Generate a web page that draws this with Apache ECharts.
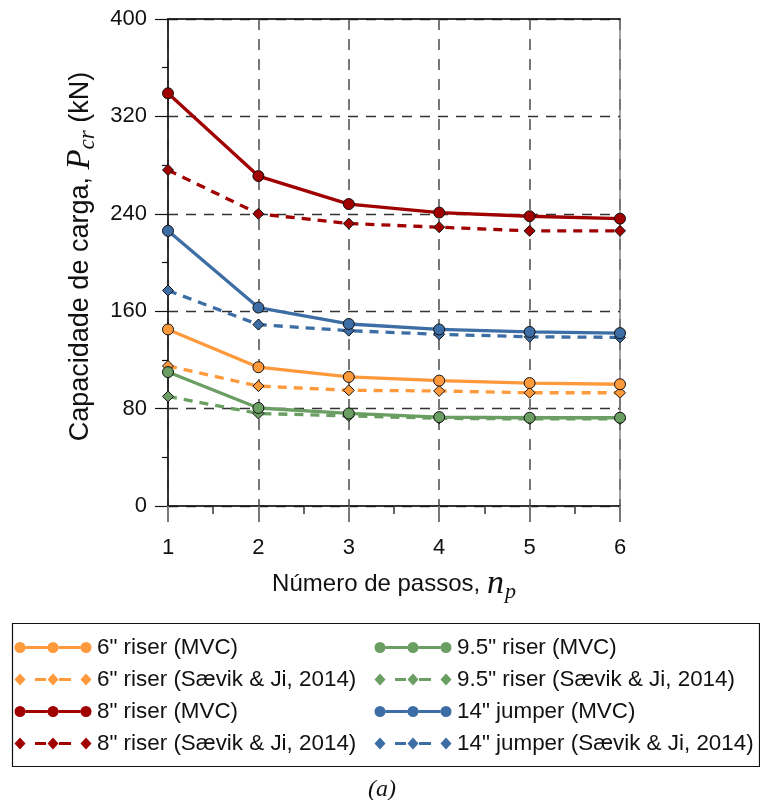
<!DOCTYPE html>
<html>
<head>
<meta charset="utf-8">
<script src="https://cdn.jsdelivr.net/npm/echarts@6/dist/echarts.min.js"></script>
<style>
html,body{margin:0;padding:0;background:#fff;}
#chart{width:760px;height:800px;}
</style>
</head>
<body>
<div id="chart"></div>
<script>
// ---- data ----
const passos = [1, 2, 3, 4, 5, 6];
const yTicks = [0, 80, 160, 240, 320, 400];
const riser6MVC   = [145, 114, 106, 103, 101, 100];
const riser6Sae   = [115, 98.5, 95, 94.5, 93, 93];
const riser8MVC   = [339, 271, 248, 241, 238, 236];
const riser8Sae   = [276, 240, 232, 229, 226, 226];
const riser95MVC  = [110, 80.5, 76, 73, 72.5, 72.5];
const riser95Sae  = [90, 76, 74, 72, 71.5, 71.5];
const jumper14MVC = [226, 163, 149.5, 145, 143, 142];
const jumper14Sae = [177, 149, 144, 141, 139, 138.5];

const names = {
  r6m: '6" riser (MVC)', r6s: '6" riser (Sævik & Ji, 2014)',
  r8m: '8" riser (MVC)', r8s: '8" riser (Sævik & Ji, 2014)',
  r95m: '9.5" riser (MVC)', r95s: '9.5" riser (Sævik & Ji, 2014)',
  j14m: '14" jumper (MVC)', j14s: '14" jumper (Sævik & Ji, 2014)'
};
const colors = { orange: '#FF9A3C', red: '#A00000', green: '#6A9E62', blue: '#3C6EA5' };

const pair = arr => passos.map((x, i) => [x, arr[i]]);

function lineSeries(name, arr, color, dashed) {
  return {
    name: name,
    type: 'line',
    data: pair(arr),
    symbol: dashed ? 'diamond' : 'circle',
    symbolSize: 11,
    lineStyle: { color: color, width: 3.3, type: dashed ? [9, 7] : 'solid' },
    itemStyle: { color: color, borderColor: '#111', borderWidth: 1 },
    z: dashed ? 3 : 4,
    animation: false
  };
}

// legend icon paths (78 x 12 units)
function circ(cx) { return 'M' + (cx - 5.5) + ',6 a5.5,5.5 0 1,0 11,0 a5.5,5.5 0 1,0 -11,0 Z '; }
function diam(cx) { return 'M' + cx + ',0 L' + (cx + 5.5) + ',6 L' + cx + ',12 L' + (cx - 5.5) + ',6 Z '; }
function seg(a, b) { return 'M' + a + ',4.6 L' + b + ',4.6 L' + b + ',7.4 L' + a + ',7.4 Z '; }
const iconMVC = 'path://M0,0 L0.01,0 L0.01,0.01 Z M78,12 L77.99,12 L77.99,11.99 Z ' + circ(6) + seg(11.5, 33.5) + circ(39) + seg(44.5, 66.5) + circ(72);
const iconSae = 'path://M0,0 L0.01,0 L0.01,0.01 Z M78,12 L77.99,12 L77.99,11.99 Z ' + diam(6) + seg(21, 32) + diam(39) + seg(45, 57) + diam(72);

const chart = echarts.init(document.getElementById('chart'), null, { renderer: 'canvas' });

const legendCommon = {
  orient: 'vertical',
  padding: 0,
  itemWidth: 78,
  itemHeight: 12,
  itemGap: 9,
  textStyle: { fontSize: 22.4, fontFamily: 'Liberation Sans', color: '#111', lineHeight: 23 },
  itemStyle: { borderWidth: 0 },
  selectedMode: false
};

chart.setOption({
  backgroundColor: '#fff',
  animation: false,
  grid: { left: 168, right: 140, top: 19, bottom: 294, show: true, borderColor: '#888', borderWidth: 1.5, backgroundColor: 'transparent' },
  xAxis: [{
    type: 'value', min: 1, max: 6, interval: 1,
    name: '{t|Número de passos, }{n|n}{p|p}',
    nameLocation: 'middle', nameGap: 59,
    nameTextStyle: {
      rich: {
        t: { fontSize: 24, fontFamily: 'Liberation Sans', color: '#111' },
        n: { fontSize: 34, fontFamily: 'Liberation Serif', fontStyle: 'italic', color: '#111' },
        p: { fontSize: 22, fontFamily: 'Liberation Serif', fontStyle: 'italic', color: '#111', padding: [16, 0, 0, 1] }
      }
    },
    axisLine: { show: true, lineStyle: { color: '#111', width: 1.5 } },
    axisTick: { show: true, length: 16, lineStyle: { color: '#777', width: 2 } },
    minorTick: { show: true, splitNumber: 2, length: 8, lineStyle: { color: '#333', width: 1.5 } },
    axisLabel: { fontSize: 22, fontFamily: 'Liberation Sans', color: '#111', margin: 31 },
    splitLine: { show: true, lineStyle: { color: '#777', width: 2, type: [11, 9] } }
  }, {
    type: 'value', min: 1, max: 6, interval: 1, position: 'top',
    axisLine: { show: true, lineStyle: { color: '#111', width: 1.5 } },
    axisTick: { show: false }, axisLabel: { show: false }, splitLine: { show: false }
  }],
  yAxis: {
    type: 'value', min: yTicks[0], max: yTicks[yTicks.length - 1], interval: yTicks[1] - yTicks[0],
    name: '{t|Capacidade de carga, }{p|P}{s|cr}{t| (kN)}',
    nameLocation: 'middle', nameGap: 62,
    nameTextStyle: {
      padding: [0, 0, 0, 12],
      rich: {
        t: { fontSize: 27, fontFamily: 'Liberation Sans', color: '#111' },
        p: { fontSize: 33, fontFamily: 'Liberation Serif', fontStyle: 'italic', color: '#111' },
        s: { fontSize: 23, fontFamily: 'Liberation Serif', fontStyle: 'italic', color: '#111', padding: [15, 0, 0, 0] }
      }
    },
    axisLine: { show: true, lineStyle: { color: '#111', width: 1.5 } },
    axisTick: { show: true, length: 13, lineStyle: { color: '#111', width: 1.2 } },
    minorTick: { show: true, splitNumber: 2, length: 6, lineStyle: { color: '#111', width: 1.2 } },
    axisLabel: { fontSize: 22, fontFamily: 'Liberation Sans', color: '#111', margin: 21 },
    splitLine: { show: true, lineStyle: { color: '#333', width: 1.3, type: [10, 8] } }
  },
  legend: [
    Object.assign({}, legendCommon, {
      left: 14, top: 636,
      data: [
        { name: names.r6m, icon: iconMVC }, { name: names.r6s, icon: iconSae },
        { name: names.r8m, icon: iconMVC }, { name: names.r8s, icon: iconSae }
      ]
    }),
    Object.assign({}, legendCommon, {
      left: 374, top: 636,
      data: [
        { name: names.r95m, icon: iconMVC }, { name: names.r95s, icon: iconSae },
        { name: names.j14m, icon: iconMVC }, { name: names.j14s, icon: iconSae }
      ]
    })
  ],
  graphic: [
    { type: 'rect', left: 10, top: 621, shape: { width: 747, height: 143 }, style: { fill: 'none', stroke: '#111', lineWidth: 1.2 }, z: 10 },
    { type: 'text', left: 368, top: 778, style: { text: '(a)', font: 'italic 24px "Liberation Serif"', fill: '#111' }, z: 10 }
  ],
  series: [
    lineSeries(names.r6s, riser6Sae, colors.orange, true),
    lineSeries(names.r8s, riser8Sae, colors.red, true),
    lineSeries(names.r95s, riser95Sae, colors.green, true),
    lineSeries(names.j14s, jumper14Sae, colors.blue, true),
    lineSeries(names.r6m, riser6MVC, colors.orange, false),
    lineSeries(names.r8m, riser8MVC, colors.red, false),
    lineSeries(names.r95m, riser95MVC, colors.green, false),
    lineSeries(names.j14m, jumper14MVC, colors.blue, false)
  ]
});
</script>
</body>
</html>
